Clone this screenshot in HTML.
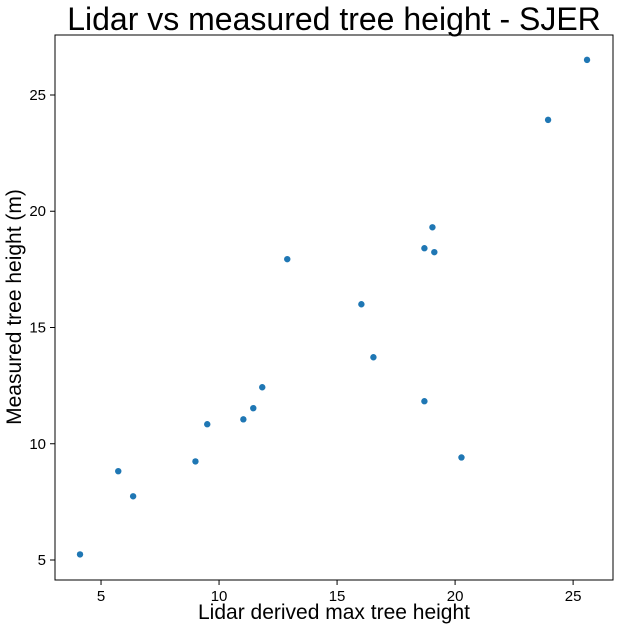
<!DOCTYPE html>
<html><head><meta charset="utf-8"><style>
html,body{margin:0;padding:0;background:#fff;width:623px;height:630px;overflow:hidden}
text{font-family:"Liberation Sans",sans-serif;fill:#000}
</style></head><body>
<svg id="chart" width="623" height="630">
<text x="334" y="30" font-size="32" text-anchor="middle">Lidar vs measured tree height - SJER</text>
<g id="plot"></g>
<text x="334" y="619" font-size="21" text-anchor="middle">Lidar derived max tree height</text>
<text transform="translate(21,307) rotate(-90)" font-size="21" text-anchor="middle">Measured tree height (m)</text>
</svg>
<script>
const lidarHeight=[4.11,5.73,6.36,9.0,9.5,11.03,11.45,11.83,12.89,16.03,16.54,18.70,19.04,19.12,18.70,20.27,23.94,25.59];
const measuredHeight=[5.24,8.82,7.74,9.24,10.84,11.05,11.53,12.43,17.94,16.0,13.72,18.41,19.31,18.24,11.83,9.41,23.93,26.51];
const xTicks=[5,10,15,20,25];
const yTicks=[5,10,15,20,25];
const L=55,R=613,T=35,B=580;
const xMin=3.05,xMax=26.69,yMin=4.14,yMax=27.58;
const sx=v=>L+(v-xMin)/(xMax-xMin)*(R-L);
const sy=v=>B-(v-yMin)/(yMax-yMin)*(B-T);
const ns="http://www.w3.org/2000/svg";
const g=document.getElementById('plot');
function mk(t,a){const e=document.createElementNS(ns,t);for(const k in a)e.setAttribute(k,a[k]);g.appendChild(e);return e;}
lidarHeight.forEach((x,i)=>{
 const c=mk('circle',{cx:sx(x),cy:sy(measuredHeight[i]),r:3.2,fill:'#1f77b4'});
 
 
});
xTicks.forEach(t=>{
 const l=mk('line',{x1:sx(t),x2:sx(t),y1:B,y2:B+5,stroke:'#000'});
 
 
 const tx=mk('text',{x:sx(t),y:B+21,'font-size':15,'text-anchor':'middle'});tx.textContent=t;
 
 
});
yTicks.forEach(t=>{
 const l=mk('line',{x1:L-5,x2:L,y1:sy(t),y2:sy(t),stroke:'#000'});
 
 
 const tx=mk('text',{x:L-9,y:sy(t)+5,'font-size':15,'text-anchor':'end'});tx.textContent=t;
 
 
});
const f=mk('rect',{x:L,y:T,width:R-L,height:B-T,fill:'none',stroke:'#000','stroke-width':1});


</script>
</body></html>
